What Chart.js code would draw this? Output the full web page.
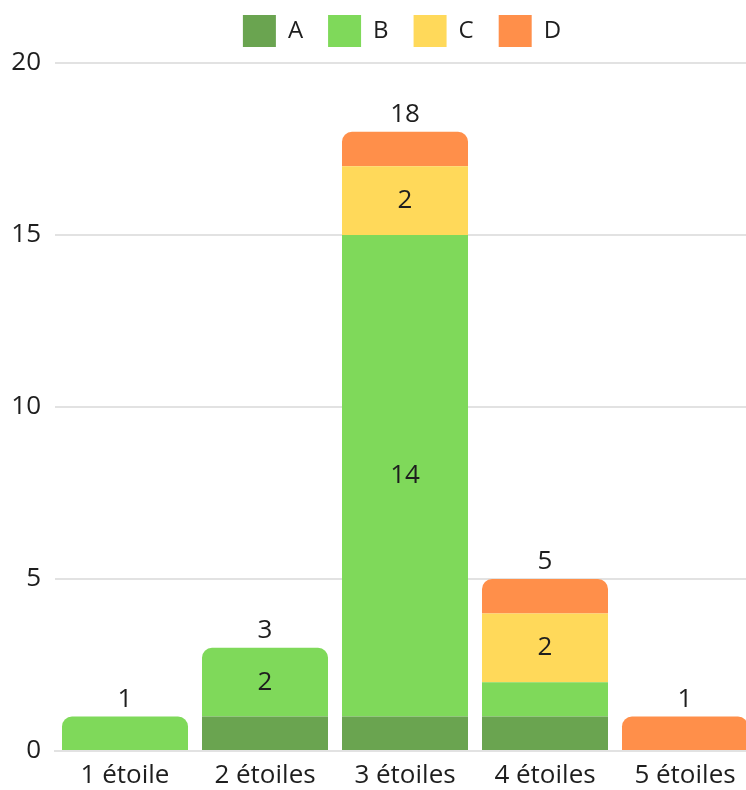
<!DOCTYPE html>
<html>
<head>
<meta charset="utf-8">
<script src="https://cdn.jsdelivr.net/npm/chart.js@4.4.1/dist/chart.umd.min.js"></script>
<style>
    html, body { margin: 0; padding: 0; background: #fff; overflow: hidden; }
    #wrap { width: 804px; height: 790px; }
</style>
</head>
<body>
<div id="wrap"><canvas id="stars"></canvas></div>
<script>
const categories = ['1 étoile', '2 étoiles', '3 étoiles', '4 étoiles', '5 étoiles'];
const seriesNames = ['A', 'B', 'C', 'D'];
const valuesA = [0, 1, 1, 1, 0];
const valuesB = [1, 2, 14, 1, 0];
const valuesC = [0, 0, 2, 2, 0];
const valuesD = [0, 0, 1, 1, 1];
const yTicks = [0, 5, 10, 15, 20];

const colors = ['rgb(106, 164, 80)', 'rgb(127, 217, 90)', 'rgb(255, 217, 90)', 'rgb(255, 143, 74)'];
const FONT = '"Open Sans", "Noto Sans", sans-serif';

// labels inside segments (only when > 1) and totals on top
const valueLabels = {
    id: 'valueLabels',
    afterDatasetsDraw(chart) {
        const ctx = chart.ctx;
        const yScale = chart.scales.y;
        ctx.save();
        ctx.font = '26px ' + FONT;
        ctx.fillStyle = '#1e1e1e';
        ctx.textAlign = 'center';
        ctx.textBaseline = 'middle';
        chart.data.datasets.forEach((ds, i) => {
            const meta = chart.getDatasetMeta(i);
            meta.data.forEach((bar, j) => {
                const v = ds.data[j];
                if(v > 1) {
                    ctx.fillText(String(v), bar.x, (bar.y + bar.base) / 2);
                }
            });
        });
        const first = chart.getDatasetMeta(0);
        categories.forEach((c, j) => {
            const total = chart.data.datasets.reduce((p, ds) => p + ds.data[j], 0);
            const x = first.data[j].x;
            ctx.fillText(String(total), x, yScale.getPixelForValue(total) - 17);
        });
        ctx.restore();
    }
};

// legend: a bit more room below, and centred over the plot area
const legendSpace = {
    id: 'legendSpace',
    beforeUpdate(chart) {
        const l = chart.legend;
        if(l && !l._patched) {
            const fit = l.fit;
            l.fit = function() {
                fit.call(this);
                this.height += 6;
            };
            l._patched = true;
        }
    },
    afterLayout(chart) {
        const l = chart.legend;
        if(l) {
            l.left = 49;
            l.width = l.right - l.left;
        }
    }
};

new Chart(document.querySelector('#stars'), {
    type: 'bar',
    data: {
        labels: categories,
        datasets: [valuesA, valuesB, valuesC, valuesD].map((d, i) => ({
            label: seriesNames[i],
            data: d,
            backgroundColor: colors[i],
            borderRadius: 10,
            borderSkipped: 'start',
            barPercentage: 0.9,
            categoryPercentage: 1
        }))
    },
    options: {
        responsive: true,
        maintainAspectRatio: false,
        animation: false,
        layout: { padding: { top: -10, right: 49, left: 0, bottom: 0 } },
        plugins: {
            legend: {
                position: 'top',
                labels: {
                    font: { family: FONT, size: 24 },
                    color: '#1e1e1e',
                    boxWidth: 33,
                    boxHeight: 32,
                    padding: 25
                }
            },
            tooltip: { enabled: false }
        },
        scales: {
            x: {
                stacked: true,
                grid: { display: false, drawTicks: false },
                border: { color: '#e2e2e2', width: 2 },
                ticks: { font: { family: FONT, size: 26 }, color: '#1e1e1e', padding: 9 },
                afterFit: (s) => { s.height = 39; }
            },
            y: {
                stacked: true,
                min: 0,
                max: 20,
                afterBuildTicks: (s) => { s.ticks = yTicks.map(v => ({ value: v })); },
                grid: { color: '#e2e2e2', lineWidth: 2, drawTicks: false },
                border: { display: false },
                ticks: { font: { family: FONT, size: 26 }, color: '#1e1e1e', padding: 14 },
                afterFit: (s) => { s.width = 55; }
            }
        }
    },
    plugins: [valueLabels, legendSpace]
});
</script>
</body>
</html>
